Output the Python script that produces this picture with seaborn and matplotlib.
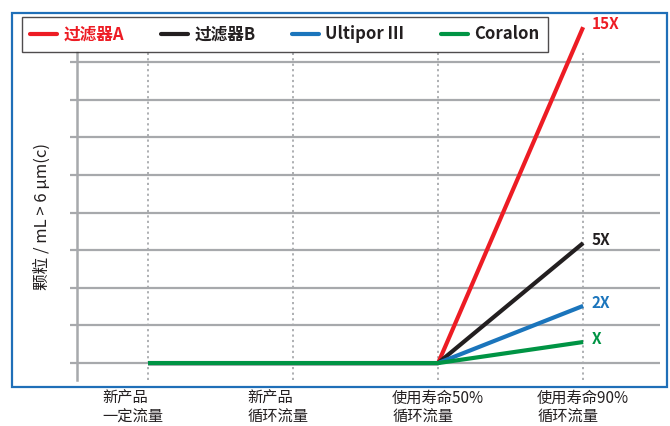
import matplotlib
matplotlib.use("Agg")
import matplotlib.pyplot as plt
import seaborn as sns
import pandas as pd
import matplotlib.transforms as mtransforms
from matplotlib.patches import Rectangle
from matplotlib.lines import Line2D

stages = ["新产品\n一定流量", "新产品\n循环流量", "使用寿命50%\n循环流量", "使用寿命90%\n循环流量"]
series_names = ["过滤器A", "过滤器B", "Ultipor III", "Coralon"]
filter_a = [0, 0, 0, 8.93]
filter_b = [0, 0, 0, 3.19]
ultipor = [0, 0, 0, 1.52]
coralon = [0, 0, 0, 0.56]
end_labels = ["15X", "5X", "2X", "X"]
colors = ["#ed1c24", "#231f20", "#1b75bc", "#009444"]

sns.set_style("white")
plt.rcParams['font.family'] = ['Noto Sans CJK SC', 'DejaVu Sans']

rows = []
for name, vals in zip(series_names, [filter_a, filter_b, ultipor, coralon]):
    for st, v in zip(stages, vals):
        rows.append({"stage": st, "filter": name, "value": v})
df = pd.DataFrame(rows)

fig = plt.figure(figsize=(6.7, 4.26), dpi=100)
ax = fig.add_axes([77/670, 1-380/426, (660-77)/670, (380-52)/426])

grid_gray = "#a7a9ac"
sns.lineplot(data=df, x="stage", y="value", hue="filter", palette=colors,
             hue_order=series_names, sort=False, linewidth=3.0, ax=ax,
             legend=False, zorder=5)
for ln in ax.lines:
    ln.set_clip_on(False)
    ln.set_solid_capstyle("butt")

ax.set_xlim(-0.49, 3.53)
ax.set_ylim(-0.45, 8.27)
ax.set_yticks(range(0, 9))
ax.set_yticklabels([])
ax.grid(axis="y", color=grid_gray, linewidth=1.6)
ax.set_axisbelow(True)
for i in range(len(stages)):
    ax.axvline(i, color=grid_gray, linestyle=(0, (1.2, 1.8)), linewidth=1.3, zorder=1)
ax.tick_params(axis="y", length=5, width=1.6, color=grid_gray, left=True, pad=0)
ax.tick_params(axis="x", length=0, pad=7)
for s in ["top", "right", "bottom"]:
    ax.spines[s].set_visible(False)
ax.spines["left"].set_color(grid_gray)
ax.spines["left"].set_linewidth(1.8)

ax.set_xlabel("")
ax.set_ylabel("颗粒 / mL > 6 μm(c)", fontsize=12, color="#231f20", labelpad=14,
              fontweight="medium")
ax.set_xticks(range(len(stages)))
ax.set_xticklabels(stages, fontsize=11, color="#231f20", linespacing=1.1,
                   fontweight="medium")
offset = mtransforms.ScaledTranslation(-46/100, 0, fig.dpi_scale_trans)
for lab in ax.get_xticklabels():
    lab.set_ha("left")
    lab.set_transform(lab.get_transform() + offset)

for vals, txt, c in zip([filter_a, filter_b, ultipor, coralon], end_labels, colors):
    ax.annotate(txt, xy=(3, vals[-1]), xytext=(6, 2), textcoords="offset points",
                ha="left", va="center", fontsize=11, fontweight="bold", color=c,
                annotation_clip=False)

handles = [Line2D([0], [0], color=c, linewidth=3.0) for c in colors]
leg = fig.legend(handles, series_names, loc="upper left",
                 bbox_to_anchor=(22/670, 1-17/426), borderaxespad=0, ncol=4,
                 frameon=True, fancybox=False, edgecolor="#231f20",
                 handlelength=1.6, handletextpad=0.4, columnspacing=2.2,
                 borderpad=0.5, prop={"weight": "bold", "size": 12})
leg.get_frame().set_linewidth(1.0)
for t, c in zip(leg.get_texts(), ["#ed1c24", "#231f20", "#231f20", "#231f20"]):
    t.set_color(c)

fig.patches.append(Rectangle((12/670, 1-387/426), (667-12)/670, (387-13)/426,
                             transform=fig.transFigure, fill=False,
                             edgecolor="#1f6fb8", linewidth=1.6, zorder=0))

fig.savefig("out.png", dpi=100)
